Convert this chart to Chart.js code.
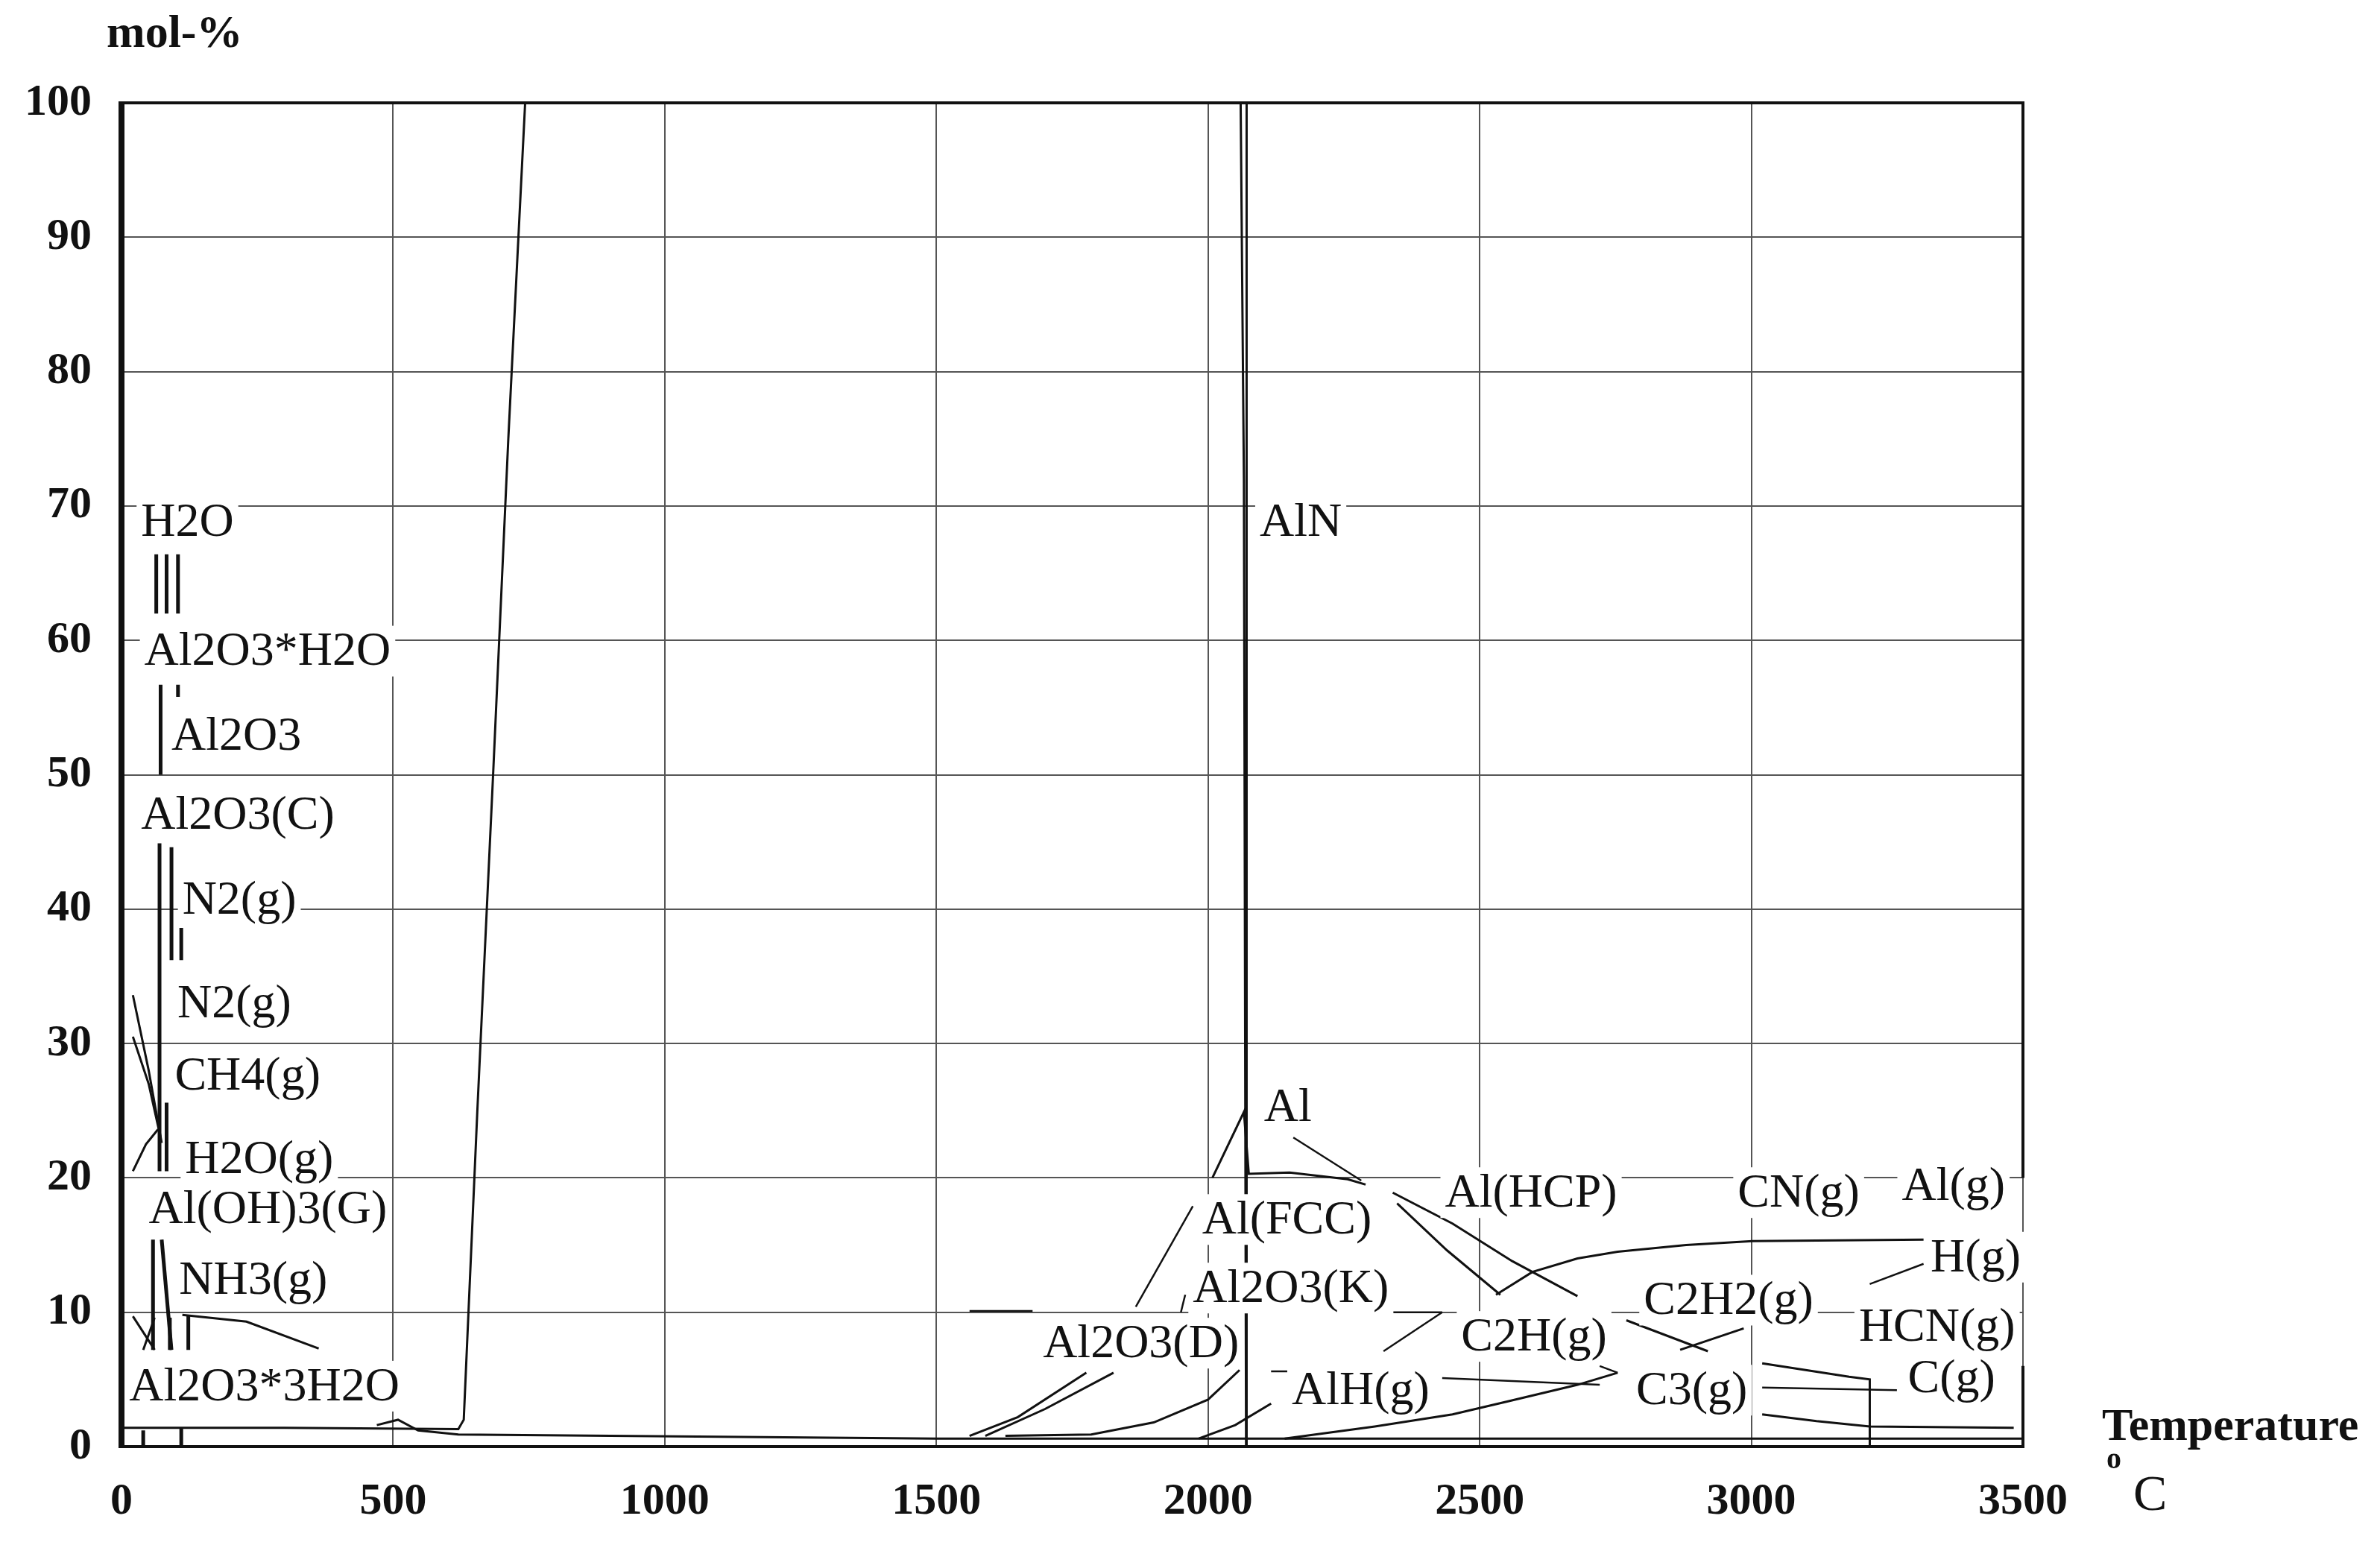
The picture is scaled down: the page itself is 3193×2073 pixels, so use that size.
<!DOCTYPE html>
<html>
<head>
<meta charset="utf-8">
<script src="https://cdn.jsdelivr.net/npm/chart.js@4.4.1/dist/chart.umd.min.js"></script>
<style>
  html, body { margin: 0; padding: 0; background: #fff; }
  canvas { display: block; }
</style>
</head>
<body>
<canvas id="chart" width="3193" height="2073"></canvas>
<script>
// Axis ticks
const xTicks = [0, 500, 1000, 1500, 2000, 2500, 3000, 3500];
const yTicks = [0, 10, 20, 30, 40, 50, 60, 70, 80, 90, 100];

// Curves, [temperature °C, mol-%]
const alnMain = [[0, 1.4], [300, 1.4], [620, 1.3], [630, 2], [655, 25], [684, 50], [712, 75], [743, 100], [2060, 100], [2066, 72], [2070, 0]];
const alCurve = [[2008, 20], [2066, 24.9], [2075, 20.3], [2150, 20.4], [2257, 19.9], [2290, 19.5]];
const alPeakDrop = [[2071, 100], [2071, 0]];
const alDesc1 = [[2340, 18.9], [2450, 16.6], [2560, 13.8], [2680, 11.2]];
const alDesc2 = [[2348, 18.1], [2440, 14.6], [2538, 11.3]];
const hGas = [[2530, 11.3], [2597, 13], [2680, 14], [2754, 14.5], [2880, 15], [3002, 15.3], [3317, 15.4]];
const al2o3D1 = [[1561, 0.8], [1650, 2.2], [1776, 5.5]];
const al2o3D2 = [[1590, 0.8], [1700, 2.8], [1826, 5.5]];
const al2o3D3 = [[1627, 0.8], [1785, 0.9], [1900, 1.8], [2000, 3.5], [2058, 5.7]];
const alhGas = [[1983, 0.6], [2050, 1.6], [2116, 3.2]];
const c3Gas = [[2141, 0.6], [2307, 1.5], [2450, 2.4], [2555, 3.4], [2680, 4.6], [2754, 5.5]];
const stepCurve = [[3020, 6.2], [3100, 5.7], [3180, 5.2], [3218, 5.0], [3218, 0]];
const lowCurve = [[3020, 2.4], [3120, 1.9], [3218, 1.5], [3483, 1.4]];
const c2h2X1 = [[2770, 9.4], [2920, 7.1]];
const c2h2X2 = [[2986, 8.8], [2869, 7.2]];
const nh3Curve = [[112, 9.8], [230, 9.3], [363, 7.3]];
const leftCurveA = [[21, 33.6], [50, 28], [74, 22.6]];
const leftCurveB = [[21, 30.5], [50, 27], [72, 23]];
const leftCurveC = [[21, 20.5], [45, 22.5], [67, 23.6]];
const leftCurveD = [[21, 9.7], [61, 7.2]];
const leftCurveE = [[40, 7.2], [61, 9.6]];
const humpCurve = [[470, 1.6], [509, 2], [546, 1.2], [620, 0.9], [1500, 0.6], [3500, 0.6]];

// Short vertical marks in the low-temperature cluster
const ticksLeft = [
  [[64, 66.4], [64, 62]], [[83, 66.4], [83, 62]], [[104, 66.4], [104, 62]],
  [[72, 56.7], [72, 50]], [[104, 56.7], [104, 55.8]],
  [[70, 44.9], [70, 20.5]], [[92, 44.6], [92, 36.2]], [[110, 38.6], [110, 36.2]],
  [[83, 25.6], [83, 20.5]], [[58, 15.4], [58, 7.2]], [[74, 15.4], [92, 7.2]],
  [[89, 9.6], [89, 7.2]], [[123, 9.7], [123, 7.2]], [[40, 1.2], [40, 0]], [[110, 1.4], [110, 0]]
];

// Leader lines from labels
const leaders = [
  [[2157, 23], [2282, 19.8]],
  [[1972, 17.9], [1867, 10.4]],
  [[1958, 11.3], [1950, 10]],
  [[2323, 7.1], [2431, 10]], [[2340, 10], [2431, 10]],
  [[2431, 5.1], [2721, 4.6]], [[2721, 6], [2754, 5.5]],
  [[3020, 4.4], [3268, 4.2]],
  [[3218, 12.1], [3317, 13.6]],
  [[2116, 5.6], [2172, 5.6]],
  [[1561, 10.1], [1677, 10.1]]
];

// Species labels [text, x °C, y mol-%]
const labels = [
  ['H2O', 36, 68.8], ['Al2O3*H2O', 42, 59.2], ['Al2O3', 92, 52.9], ['Al2O3(C)', 36, 47],
  ['N2(g)', 112, 40.7], ['N2(g)', 103, 33], ['CH4(g)', 98, 27.6], ['H2O(g)', 117, 21.4],
  ['Al(OH)3(G)', 50, 17.7], ['NH3(g)', 106, 12.4], ['Al2O3*3H2O', 14, 4.5],
  ['AlN', 2095, 68.8], ['Al', 2103, 25.3], ['Al(HCP)', 2436, 18.9], ['CN(g)', 2975, 18.9],
  ['Al(g)', 3277, 19.4], ['Al(FCC)', 1989, 16.9], ['H(g)', 3330, 14.1], ['Al2O3(K)', 1972, 11.8],
  ['C2H2(g)', 2802, 10.9], ['HCN(g)', 3198, 8.9], ['C2H(g)', 2466, 8.2], ['Al2O3(D)', 1696, 7.7],
  ['AlH(g)', 2154, 4.2], ['C3(g)', 2788, 4.2], ['C(g)', 3288, 5.1]
];

const curves = [alnMain, alCurve, alPeakDrop, alDesc1, alDesc2, hGas, al2o3D1, al2o3D2, al2o3D3,
  alhGas, c3Gas, stepCurve, lowCurve, c2h2X1, c2h2X2, nh3Curve, leftCurveA, leftCurveB,
  leftCurveC, leftCurveD, leftCurveE, humpCurve];

const datasets = [];
curves.forEach(c => datasets.push({ data: c.map(p => ({ x: p[0], y: p[1] })), borderWidth: 3 }));
ticksLeft.forEach(c => datasets.push({ data: c.map(p => ({ x: p[0], y: p[1] })), borderWidth: 5 }));
leaders.forEach(c => datasets.push({ data: c.map(p => ({ x: p[0], y: p[1] })), borderWidth: 2.5 }));
datasets.forEach(d => {
  d.showLine = true;
  d.pointRadius = 0;
  d.borderColor = '#111';
  d.tension = 0;
});

const serif = '"Liberation Serif", "DejaVu Serif", serif';

// Labels with white boxes, frame and axis titles
const decorPlugin = {
  id: 'decor',
  afterDatasetsDraw(chart) {
    const ctx = chart.ctx;
    const xs = chart.scales.x, ys = chart.scales.y;
    const a = chart.chartArea;
    ctx.save();
    ctx.font = '64px ' + serif;
    ctx.textBaseline = 'middle';
    labels.forEach(l => {
      const px = xs.getPixelForValue(l[1]);
      const py = ys.getPixelForValue(l[2]);
      const w = ctx.measureText(l[0]).width;
      ctx.fillStyle = '#fff';
      ctx.fillRect(px - 6, py - 34, w + 12, 68);
      ctx.fillStyle = '#111';
      ctx.fillText(l[0], px, py + 2);
    });
    // frame
    ctx.strokeStyle = '#111';
    ctx.lineWidth = 4;
    ctx.beginPath();
    ctx.moveTo(a.left, a.top);
    ctx.lineTo(a.right, a.top);
    ctx.lineTo(a.right, ys.getPixelForValue(20));
    ctx.moveTo(a.right, ys.getPixelForValue(6));
    ctx.lineTo(a.right, a.bottom);
    ctx.lineTo(a.left, a.bottom);
    ctx.stroke();
    ctx.lineWidth = 8;
    ctx.beginPath();
    ctx.moveTo(a.left, a.top - 2);
    ctx.lineTo(a.left, a.bottom + 2);
    ctx.stroke();
    // titles
    ctx.fillStyle = '#111';
    ctx.font = 'bold 62px ' + serif;
    ctx.textBaseline = 'middle';
    ctx.fillText('mol-%', 143, 47);
    ctx.fillText('Temperature', 2820, 1916);
    ctx.font = 'bold 40px ' + serif;
    ctx.fillText('o', 2826, 1960);
    ctx.font = '68px ' + serif;
    ctx.fillText('C', 2862, 2008);
    ctx.restore();
  }
};

new Chart(document.getElementById('chart').getContext('2d'), {
  type: 'scatter',
  data: { datasets: datasets },
  options: {
    responsive: false,
    animation: false,
    devicePixelRatio: 1,
    layout: { padding: { left: 0, right: 479, top: 138, bottom: 0 } },
    plugins: { legend: { display: false }, tooltip: { enabled: false } },
    scales: {
      x: {
        type: 'linear', min: 0, max: 3500,
        afterBuildTicks: s => { s.ticks = xTicks.map(v => ({ value: v })); },
        afterFit: s => { s.height = 132; },
        grid: { color: '#555', lineWidth: 2, drawTicks: false },
        border: { display: false },
        ticks: { color: '#111', padding: 38, callback: v => String(v), font: { family: serif, size: 60, weight: 'bold' } }
      },
      y: {
        type: 'linear', min: 0, max: 100,
        afterBuildTicks: s => { s.ticks = yTicks.map(v => ({ value: v })); },
        afterFit: s => { s.width = 163; },
        grid: { color: '#555', lineWidth: 2, drawTicks: false },
        border: { display: false },
        ticks: { color: '#111', padding: 40, callback: v => String(v), font: { family: serif, size: 60, weight: 'bold' } }
      }
    }
  },
  plugins: [decorPlugin]
});
</script>
</body>
</html>
